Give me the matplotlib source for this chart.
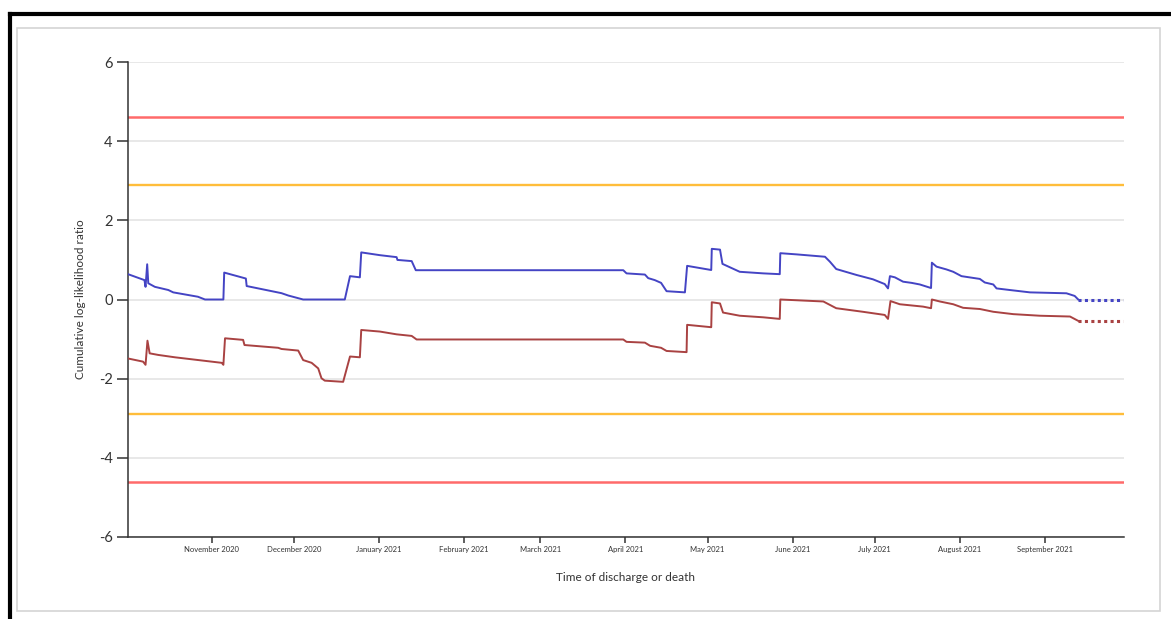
import numpy as np
import pandas as pd
import matplotlib
matplotlib.use("Agg")
from matplotlib import pyplot as plt
import matplotlib.dates as mdates
from matplotlib.lines import Line2D
from matplotlib.patches import Rectangle

plt.rcParams['font.family'] = ['Lato', 'DejaVu Sans']
plt.rcParams['axes.unicode_minus'] = False

# data: day offsets from start date and cumulative log-likelihood ratio
start = pd.Timestamp("2020-10-01")

blue_days = [0.5, 6.5, 6.9, 7.5, 7.9, 10.3, 15.2, 17, 26, 28.6, 35.3, 35.6, 43.5, 43.8,
             56.5, 59, 64.4, 79.6, 81.5, 85.1, 85.6, 92.4, 98.5, 98.8, 104, 105.5,
             181.2, 182.4, 189.1, 190.3, 192.7, 195, 197, 203.7, 204.5, 213.3, 213.5,
             216.5, 217.4, 223.7, 232.3, 238.3, 238.5, 244.4, 254.8, 256.6, 258.9,
             266.3, 272.3, 276.6, 277.8, 278.5, 280.3, 283.3, 286.4, 289.4, 293.5,
             293.8, 295.5, 299.1, 301.6, 304.6, 311.3, 313.1, 316.2, 317.4, 322.2,
             329.6, 342.9, 345.9, 347.2]
blue_vals = [0.64, 0.49, 0.32, 0.89, 0.41, 0.32, 0.24, 0.18, 0.07, 0.0, 0.0, 0.68, 0.53, 0.34,
             0.16, 0.10, 0.0, 0.0, 0.59, 0.56, 1.19, 1.12, 1.07, 1.0, 0.97, 0.74,
             0.74, 0.66, 0.63, 0.54, 0.49, 0.42, 0.21, 0.18, 0.85, 0.745, 1.28,
             1.26, 0.90, 0.70, 0.66, 0.64, 1.17, 1.14, 1.08, 0.955, 0.77,
             0.62, 0.51, 0.39, 0.28, 0.59, 0.56, 0.45, 0.42, 0.38, 0.29,
             0.93, 0.83, 0.76, 0.70, 0.59, 0.52, 0.43, 0.38, 0.28, 0.24,
             0.18, 0.157, 0.09, 0.0]

red_days = [0.5, 6, 6.9, 7.6, 8.4, 11.5, 17.6, 34.7, 35.3, 35.9, 42.5, 43, 55.3, 56.5,
            62.6, 64.4, 67.5, 69.9, 71.1, 72.3, 79, 81.5, 85.1, 85.6, 92.4, 98.5, 104,
            105.8, 181.2, 182.4, 189.1, 191, 195, 197, 204.3, 204.5, 213.3, 213.5,
            216.5, 217.6, 223.7, 232.3, 238.3, 238.5, 254.2, 258.9, 268.6, 276.6,
            277.8, 278.7, 282.1, 290.6, 293.5, 293.8, 296.7, 301.6, 305.2, 311.3,
            316.2, 323.5, 333.2, 344.2, 347.2]
red_vals = [-1.49, -1.57, -1.65, -1.04, -1.36, -1.40, -1.46, -1.60, -1.65, -0.98, -1.02, -1.15, -1.22, -1.25,
            -1.29, -1.53, -1.60, -1.74, -1.99, -2.05, -2.08, -1.44, -1.46, -0.77, -0.81, -0.88, -0.92,
            -1.01, -1.01, -1.07, -1.09, -1.17, -1.22, -1.30, -1.33, -0.64, -0.70, -0.07,
            -0.10, -0.33, -0.41, -0.45, -0.49, 0.0, -0.05, -0.22, -0.31, -0.39,
            -0.49, -0.04, -0.12, -0.18, -0.22, 0.0, -0.05, -0.12, -0.21, -0.24,
            -0.31, -0.37, -0.41, -0.43, -0.54]

proj_days = [347.2, 363.6]
limits_outer = [4.6, -4.6]
limits_inner = [2.9, -2.9]

blue_dates = start + pd.to_timedelta(blue_days, unit="D")
red_dates = start + pd.to_timedelta(red_days, unit="D")
proj_dates = start + pd.to_timedelta(proj_days, unit="D")

W, H = 1171, 619
fig = plt.figure(figsize=(W / 100, H / 100), dpi=100)
ax = fig.add_axes([128 / W, 1 - 537 / H, (1124 - 128) / W, (537 - 62) / H])

# frame around chart
fig.add_artist(Rectangle((17 / W, 1 - 611 / H), (1160 - 17) / W, (611 - 28) / H,
                         transform=fig.transFigure, fill=False, ec="#d4d4d4", lw=1.2))
fig.add_artist(Line2D([10 / W, 1], [1 - 13.5 / H] * 2, transform=fig.transFigure, color="black", lw=3))
fig.add_artist(Line2D([10 / W] * 2, [0, 1 - 13.5 / H], transform=fig.transFigure, color="black", lw=3))

for v in limits_outer:
    ax.axhline(v, color="#ff6a6a", lw=1.8, zorder=2)
for v in limits_inner:
    ax.axhline(v, color="#ffbd3a", lw=1.7, zorder=2)

ax.plot(blue_dates, blue_vals, color="#4444c4", lw=1.4, zorder=3)
ax.plot(red_dates, red_vals, color="#a94242", lw=1.4, zorder=3)
ax.plot(proj_dates, [blue_vals[-1]] * 2, color="#4444c4", lw=2.2, ls=(0, (1, 1.1)), zorder=3)
ax.plot(proj_dates, [red_vals[-1]] * 2, color="#a94242", lw=2.2, ls=(0, (1, 1.1)), zorder=3)

ax.set_ylim(-6, 6)
ax.set_yticks(np.arange(-6, 7, 2))
ax.set_xlim(start + pd.Timedelta(hours=12), start + pd.Timedelta(days=363.9))
# month ticks; the October boundary sits on the axis edge and is not shown
ticks = mdates.date2num(pd.date_range("2020-11-01", "2021-09-01", freq="MS"))
ax.set_xticks(ticks)
ax.xaxis.set_major_formatter(mdates.DateFormatter("%B %Y"))

ax.grid(axis="y", color="#e6e6e6", lw=1.3, zorder=0)
ax.set_axisbelow(True)
for s in ["top", "right"]:
    ax.spines[s].set_visible(False)
for s in ["left", "bottom"]:
    ax.spines[s].set_color("#333333")
    ax.spines[s].set_linewidth(1.1)

ax.tick_params(axis="y", length=8, width=1.1, color="#333333", labelsize=10.5, labelcolor="#333333", pad=3)
ax.tick_params(axis="x", length=4.5, width=1.1, color="#333333", labelsize=5.5, labelcolor="#333333", pad=2)

ax.set_xlabel("Time of discharge or death", fontsize=8.5, color="#333333", labelpad=14)
ax.set_ylabel("Cumulative log-likelihood ratio", fontsize=8.5, color="#333333", labelpad=9)

fig.savefig("out.png", dpi=100)
